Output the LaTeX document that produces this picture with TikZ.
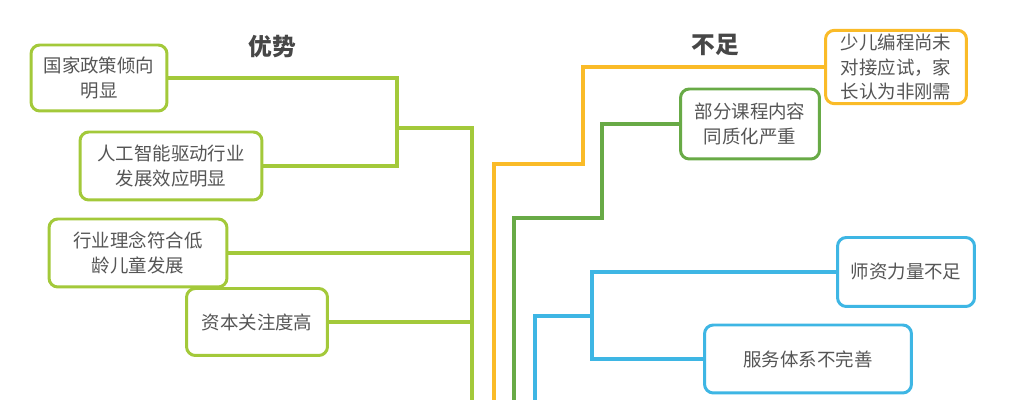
\documentclass[tikz,border=0pt]{standalone}
\usepackage{fontspec}
\usepackage{tikz}
\usetikzlibrary{calc,positioning}
\newfontfamily\cjk{Noto Sans CJK SC}
\definecolor{ysgreen}{RGB}{163,201,58}
\definecolor{bzorange}{RGB}{250,187,40}
\definecolor{bzgreen}{RGB}{104,170,70}
\definecolor{bzblue}{RGB}{62,182,228}
\definecolor{txtgray}{RGB}{85,85,85}
\tikzset{
  sbox/.style={rectangle, rounded corners=5pt, fill=white, line width=1.7pt,
               align=center, inner sep=2pt, text=txtgray,
               font=\cjk\fontsize{10.5}{14}\selectfont},
  ysbox/.style={sbox, draw=ysgreen},
  bzboxA/.style={sbox, draw=bzorange},
  bzboxB/.style={sbox, draw=bzgreen},
  bzboxC/.style={sbox, draw=bzblue},
  sline/.style={line width=2.8pt},
  ysline/.style={sline, ysgreen},
  bzlineA/.style={sline, bzorange},
  bzlineB/.style={sline, bzgreen},
  bzlineC/.style={sline, bzblue},
  stitle/.style={font=\cjk\bfseries\fontsize{13.5}{16}\selectfont, text=black!72},
}
\begin{document}
\begin{tikzpicture}[x=0.02cm, y=-0.02cm]
\useasboundingbox (0,0) rectangle (1012,405);
% titles
\node[stitle] (ys) at (272, 47) {优势};
\node[stitle] (bz) at (715, 45) {不足};
% left side
\node[ysbox, minimum width=2.72cm, minimum height=1.32cm] (L1) at (99, 78)    {国家政策倾向\\明显};
\node[ysbox, minimum width=3.64cm, minimum height=1.36cm] (L2) at (171, 166)  {人工智能驱动行业\\发展效应明显};
\node[ysbox, minimum width=3.56cm, minimum height=1.36cm] (L3) at (138, 253)  {行业理念符合低\\龄儿童发展};
\node[ysbox, minimum width=2.82cm, minimum height=1.34cm] (L4) at (257, 322)  {资本关注度高};
\coordinate (jL) at (397, 128);
\coordinate (tL) at (472, 400);
\begin{scope}[on background layer/.try]
\draw[ysline] (L1.east) -| (jL);
\draw[ysline] (L2.east) -| (jL);
\draw[ysline] (jL) -| (tL);
\draw[ysline] (L3.east) -- (L3.east -| tL);
\draw[ysline] (L4.east) -- (L4.east -| tL);
\end{scope}
% right side
\node[bzboxA, minimum width=2.82cm, minimum height=1.36cm] (R1) at (896, 67)  {少儿编程尚未\\对接应试，家\\长认为非刚需};
\node[bzboxB, minimum width=2.78cm, minimum height=1.40cm] (R2) at (750, 124) {部分课程内容\\同质化严重};
\node[bzboxC, minimum width=2.74cm, minimum height=1.38cm] (R3) at (906, 272) {师资力量不足};
\node[bzboxC, minimum width=4.14cm, minimum height=1.36cm] (R4) at (808, 359) {服务体系不完善};
\coordinate (oA) at (583, 164); \coordinate (oB) at (494, 400);
\coordinate (gA) at (602, 218); \coordinate (gB) at (514, 400);
\coordinate (bJ) at (592, 316); \coordinate (bB) at (535, 400);
\draw[bzlineA] (R1.west) -| (oA) -| (oB);
\draw[bzlineB] (R2.west) -| (gA) -| (gB);
\draw[bzlineC] (R3.west) -| (bJ) |- (R4.west);
\draw[bzlineC] (bJ) -| (bB);
\end{tikzpicture}
\end{document}
